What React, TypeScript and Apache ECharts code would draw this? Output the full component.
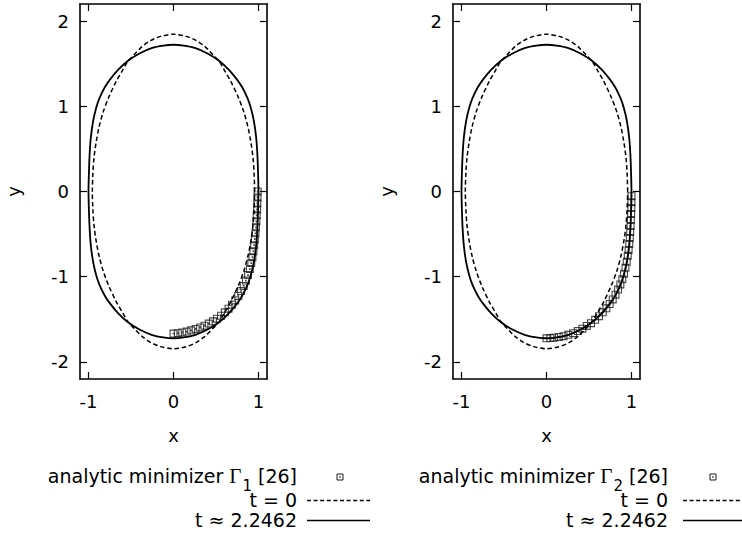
import React, { useEffect, useRef } from 'react';
import * as echarts from 'echarts';

// ---- data ----
const xTicks = [-1, 0, 1];
const yTicks = [-2, -1, 0, 1, 2];

// initial curve (t = 0), dashed
const initialCurve: number[][] = [
  [0.955, 0], [0.948, 0.22], [0.935, 0.4], [0.91, 0.58], [0.875, 0.76], [0.825, 0.94], [0.76, 1.11],
  [0.67, 1.3], [0.6, 1.42], [0.535, 1.53], [0.45, 1.62], [0.37, 1.7], [0.27, 1.77], [0.15, 1.82], [0, 1.845],
  [-0.15, 1.82], [-0.27, 1.77], [-0.37, 1.7], [-0.45, 1.62], [-0.535, 1.53], [-0.6, 1.42], [-0.67, 1.3],
  [-0.76, 1.11], [-0.825, 0.94], [-0.875, 0.76], [-0.91, 0.58], [-0.935, 0.4], [-0.948, 0.22], [-0.955, 0],
  [-0.948, -0.22], [-0.935, -0.4], [-0.91, -0.58], [-0.875, -0.76], [-0.825, -0.94], [-0.76, -1.11],
  [-0.67, -1.3], [-0.6, -1.42], [-0.535, -1.53], [-0.45, -1.62], [-0.37, -1.7], [-0.27, -1.77], [-0.15, -1.82],
  [0, -1.845], [0.15, -1.82], [0.27, -1.77], [0.37, -1.7], [0.45, -1.62], [0.535, -1.53], [0.6, -1.42],
  [0.67, -1.3], [0.76, -1.11], [0.825, -0.94], [0.875, -0.76], [0.91, -0.58], [0.935, -0.4], [0.948, -0.22],
  [0.955, 0],
];

// final curve (t ≈ 2.2462), solid
const finalCurve: number[][] = [
  [1.0, 0], [0.995, 0.22], [0.987, 0.43], [0.973, 0.63], [0.945, 0.83], [0.91, 0.98], [0.873, 1.09],
  [0.81, 1.22], [0.75, 1.31], [0.65, 1.43], [0.535, 1.535], [0.4, 1.62], [0.25, 1.685], [0.12, 1.712], [0, 1.722],
  [-0.12, 1.712], [-0.25, 1.685], [-0.4, 1.62], [-0.535, 1.535], [-0.65, 1.43], [-0.75, 1.31], [-0.81, 1.22],
  [-0.873, 1.09], [-0.91, 0.98], [-0.945, 0.83], [-0.973, 0.63], [-0.987, 0.43], [-0.995, 0.22], [-1.0, 0],
  [-0.995, -0.22], [-0.987, -0.43], [-0.973, -0.63], [-0.945, -0.83], [-0.91, -0.98], [-0.873, -1.09],
  [-0.81, -1.22], [-0.75, -1.31], [-0.65, -1.43], [-0.535, -1.535], [-0.4, -1.62], [-0.25, -1.685],
  [-0.12, -1.712], [0, -1.722], [0.12, -1.712], [0.25, -1.685], [0.4, -1.62], [0.535, -1.535], [0.65, -1.43],
  [0.75, -1.31], [0.81, -1.22], [0.873, -1.09], [0.91, -0.98], [0.945, -0.83], [0.973, -0.63], [0.987, -0.43],
  [0.995, -0.22], [1.0, 0],
];

// analytic minimizer Γ1 (left panel)
const minimizer1: number[][] = [
  [0.99, 0.0], [0.988, -0.07], [0.986, -0.14], [0.983, -0.21], [0.979, -0.28], [0.975, -0.35], [0.97, -0.42],
  [0.964, -0.49], [0.957, -0.56], [0.949, -0.63], [0.94, -0.7], [0.929, -0.77], [0.915, -0.84], [0.898, -0.91],
  [0.877, -0.98], [0.853, -1.045], [0.826, -1.108], [0.795, -1.168], [0.762, -1.225], [0.726, -1.278],
  [0.688, -1.328], [0.647, -1.375], [0.604, -1.418], [0.559, -1.457], [0.512, -1.492], [0.464, -1.523],
  [0.415, -1.55], [0.364, -1.574], [0.313, -1.595], [0.261, -1.613], [0.208, -1.629], [0.155, -1.643],
  [0.103, -1.654], [0.052, -1.662], [0.0, -1.667],
];

// analytic minimizer Γ2 (right panel)
const minimizer2: number[][] = [
  [1.0, -0.055], [0.999, -0.125], [0.998, -0.195], [0.996, -0.265], [0.993, -0.335], [0.989, -0.405],
  [0.985, -0.475], [0.98, -0.545], [0.974, -0.615], [0.966, -0.685], [0.956, -0.755], [0.944, -0.825],
  [0.929, -0.895], [0.912, -0.965], [0.892, -1.03], [0.869, -1.09], [0.842, -1.15], [0.812, -1.21],
  [0.779, -1.267], [0.743, -1.32], [0.704, -1.37], [0.662, -1.418], [0.618, -1.463], [0.572, -1.505],
  [0.524, -1.545], [0.474, -1.578], [0.422, -1.61], [0.368, -1.638], [0.313, -1.662], [0.257, -1.682],
  [0.2, -1.697], [0.145, -1.707], [0.09, -1.715], [0.045, -1.72], [0.0, -1.722],
];

const subscripts = ['1', '2'];
const legendT0 = 't = 0';
const legendT1 = 't ≈ 2.2462';

// ---- styling ----
const FONT = 'DejaVu Sans';
const TICK_FS = 18;
const LEG_FS = 19;
const INK = '#000';
const MARK = '#1a1a1a';
const SQUARE_DOT = 'path://M0,0H10V10H0Z M1.4,1.4V8.6H8.6V1.4Z M3.9,3.9H6.1V6.1H3.9Z';

const grids = [
  { left: 80, top: 4, width: 187, height: 375 },
  { left: 453, top: 4, width: 187, height: 375 },
];

function xAxes(gi: number) {
  const base = {
    type: 'value' as const,
    gridIndex: gi,
    min: -1.1,
    max: 1.1,
    axisLine: { show: true, onZero: false, lineStyle: { color: INK, width: 1.6 } },
    axisTick: { show: true, inside: true, length: 7, customValues: xTicks, lineStyle: { color: INK, width: 1.2 } },
    splitLine: { show: false },
  };
  return [
    {
      ...base,
      position: 'bottom',
      axisLabel: { show: true, customValues: xTicks, margin: 13, color: INK, fontFamily: FONT, fontSize: TICK_FS },
      name: 'x',
      nameLocation: 'middle',
      nameGap: 47,
      nameTextStyle: { color: INK, fontFamily: FONT, fontSize: TICK_FS },
    },
    { ...base, position: 'top', axisLabel: { show: false } },
  ];
}

function yAxes(gi: number) {
  const base = {
    type: 'value' as const,
    gridIndex: gi,
    min: -2.2,
    max: 2.2,
    axisLine: { show: true, onZero: false, lineStyle: { color: INK, width: 1.6 } },
    axisTick: { show: true, inside: true, length: 7, customValues: yTicks, lineStyle: { color: INK, width: 1.2 } },
    splitLine: { show: false },
  };
  return [
    {
      ...base,
      position: 'left',
      axisLabel: { show: true, customValues: yTicks, margin: 11, color: INK, fontFamily: FONT, fontSize: TICK_FS },
      name: 'y',
      nameLocation: 'middle',
      nameGap: 58,
      nameRotate: 90,
      nameTextStyle: { color: INK, fontFamily: FONT, fontSize: TICK_FS },
    },
    { ...base, position: 'right', axisLabel: { show: false } },
  ];
}

function panelSeries(gi: number, markers: number[][]) {
  const xi = gi * 2;
  const yi = gi * 2;
  return [
    {
      type: 'scatter',
      name: 'analytic minimizer',
      xAxisIndex: xi,
      yAxisIndex: yi,
      data: markers,
      symbol: SQUARE_DOT,
      symbolSize: 8,
      itemStyle: { color: MARK },
      z: 2,
    },
    {
      type: 'line',
      name: legendT0,
      xAxisIndex: xi,
      yAxisIndex: yi,
      data: initialCurve,
      showSymbol: false,
      symbol: 'none',
      smooth: 0.3,
      lineStyle: { color: INK, width: 1.5, type: [4.5, 2.8] },
      z: 3,
    },
    {
      type: 'line',
      name: legendT1,
      xAxisIndex: xi,
      yAxisIndex: yi,
      data: finalCurve,
      showSymbol: false,
      symbol: 'none',
      smooth: 0.3,
      lineStyle: { color: INK, width: 1.8, type: 'solid' },
      z: 4,
    },
  ];
}

function legendBlock(textRight: number, markX: number, lineX1: number, lineX2: number, sub: string) {
  const y1 = 476;
  const y2 = 500;
  const y3 = 520;
  const txt = { fill: INK, fontFamily: FONT, fontSize: LEG_FS, align: 'right', verticalAlign: 'middle' };
  return [
    {
      type: 'text',
      x: textRight,
      y: y1,
      style: {
        ...txt,
        text: `{n|analytic minimizer }{g|Γ}{s|${sub}}{n| [26]}`,
        rich: {
          n: { fontFamily: FONT, fontSize: LEG_FS, fill: INK, color: INK },
          g: { fontFamily: 'Liberation Serif', fontSize: 21, fill: INK, color: INK },
          s: { fontFamily: FONT, fontSize: 15, fill: INK, color: INK, padding: [20, 0, 0, 1] },
        },
      },
    },
    { type: 'text', x: textRight, y: y2, style: { ...txt, text: legendT0 } },
    { type: 'text', x: textRight, y: y3, style: { ...txt, text: legendT1 } },
    {
      type: 'rect',
      shape: { x: markX - 3, y: y1 - 2, width: 6, height: 6 },
      style: { fill: 'none', stroke: MARK, lineWidth: 1 },
    },
    {
      type: 'rect',
      shape: { x: markX - 0.7, y: y1 + 0.3, width: 1.4, height: 1.4 },
      style: { fill: MARK },
    },
    {
      type: 'line',
      shape: { x1: lineX1, y1: y2 + 0.5, x2: lineX2, y2: y2 + 0.5 },
      style: { stroke: INK, lineWidth: 1.4, lineDash: [4, 2.6] },
    },
    {
      type: 'line',
      shape: { x1: lineX1, y1: y3 + 0.5, x2: lineX2, y2: y3 + 0.5 },
      style: { stroke: INK, lineWidth: 1.7 },
    },
  ];
}

export default function App() {
  const ref = useRef<HTMLDivElement>(null);
  useEffect(() => {
    if (!ref.current) return;
    const chart = echarts.init(ref.current, undefined, { renderer: 'svg' });
    chart.setOption({
      animation: false,
      backgroundColor: '#fff',
      grid: grids,
      xAxis: [...xAxes(0), ...xAxes(1)],
      yAxis: [...yAxes(0), ...yAxes(1)],
      series: [...panelSeries(0, minimizer1), ...panelSeries(1, minimizer2)],
      graphic: [
        ...legendBlock(297, 340, 307, 370, subscripts[0]),
        ...legendBlock(668, 713, 683, 746, subscripts[1]),
      ],
    });
    return () => chart.dispose();
  }, []);
  return (
    <div
      ref={ref}
      style={{ position: 'absolute', left: 0, top: 0, width: 742, height: 538, background: '#fff' }}
    />
  );
}
